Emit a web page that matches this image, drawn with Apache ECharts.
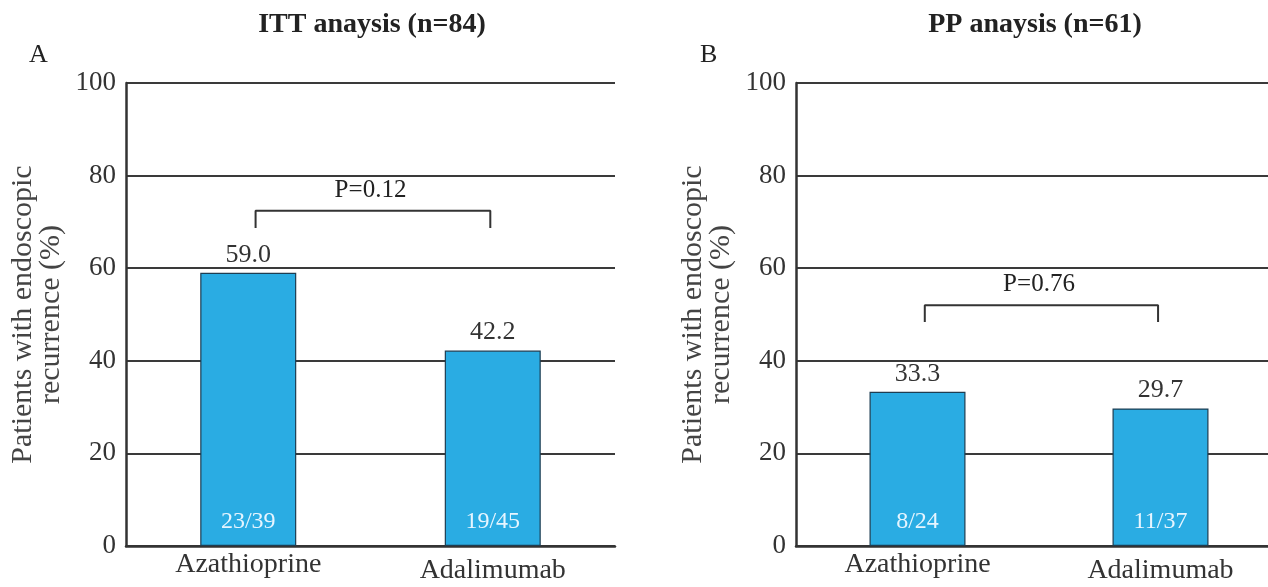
<!DOCTYPE html>
<html><head><meta charset="utf-8">
<script src="https://cdn.jsdelivr.net/npm/echarts@6/dist/echarts.min.js"></script>
<style>html,body{margin:0;padding:0;background:#fff}#c{width:1268px;height:587px}</style>
</head><body><div id="c"></div>
<script>
const categories = ['Azathioprine', 'Adalimumab'];
const ittValues = [59.0, 42.2];
const ittCounts = ['23/39', '19/45'];
const ppValues = [33.3, 29.7];
const ppCounts = ['8/24', '11/37'];
const panelTitles = ['ITT anaysis (n=84)', 'PP anaysis (n=61)'];
const panelLetters = ['A', 'B'];
const pValues = ['P=0.12', 'P=0.76'];
const bracketTop = [72.4, 52.0];
const bracketEnd = [68.7, 48.4];
const yTicks = [0, 20, 40, 60, 80, 100];

const FONT = '"Liberation Serif", "DejaVu Serif", serif';
const chart = echarts.init(document.getElementById('c'));
const grids = [
  {left: 126, top: 83, width: 489, height: 463, outerBoundsMode: 'none', containLabel: false},
  {left: 796, top: 83, width: 486, height: 463, outerBoundsMode: 'none', containLabel: false}
];
const xAxes = [], yAxes = [], series = [];
const panels = [[ittValues, ittCounts], [ppValues, ppCounts]];
panels.forEach((p, i) => {
  xAxes.push({
    type: 'category', gridIndex: i, data: categories,
    axisLine: {show: true, lineStyle: {color: '#333', width: 2.5}},
    axisTick: {show: false},
    axisLabel: {interval: 0, hideOverlap: false, fontFamily: FONT, fontSize: 28, color: '#333', margin: 5,
      formatter: (v, idx) => idx === 1 ? '{b|' + v + '}' : '{a|' + v + '}',
      rich: {a: {fontFamily: FONT, fontSize: 28, color: '#333', padding: [0,0,0,0]},
             b: {fontFamily: FONT, fontSize: 28, color: '#333', padding: [6,0,0,0]}}}
  });
  xAxes.push({
    type: 'value', gridIndex: i, min: -0.5, max: 1.5, show: false
  });
  yAxes.push({
    type: 'value', gridIndex: i, min: 0, max: 100, interval: 20,
    name: 'Patients with endoscopic\nrecurrence (%)',
    nameLocation: 'middle', nameGap: 61, nameRotate: 90,
    nameTextStyle: {fontFamily: FONT, fontSize: 30, color: '#444', lineHeight: 28},
    axisLine: {show: true, onZero: false, lineStyle: {color: '#333', width: 2.5}},
    axisTick: {show: false},
    axisLabel: {fontFamily: FONT, fontSize: 27, color: '#333', margin: 10,
      customValues: yTicks},
    splitLine: {show: true, lineStyle: {color: '#3a3a3a', width: 2}}
  });
  series.push({
    type: 'bar', xAxisIndex: i * 2, yAxisIndex: i, data: p[0], barWidth: 96,
    itemStyle: {color: '#2aace3', borderColor: '#1d3d52', borderWidth: 1.2},
    label: {show: true, position: 'insideBottom', distance: 12,
      formatter: (d) => p[1][d.dataIndex],
      fontFamily: FONT, fontSize: 24, color: '#e6f5ff'},
    z: 3
  });
  series.push({
    type: 'bar', xAxisIndex: i * 2, yAxisIndex: i, data: p[0], barWidth: 96, barGap: '-100%',
    itemStyle: {color: 'rgba(0,0,0,0)'},
    label: {show: true, position: 'top', distance: 5,
      formatter: (d) => d.value.toFixed(1),
      fontFamily: FONT, fontSize: 26, color: '#333'},
    silent: true, z: 4
  });
  series.push({
    type: 'line', xAxisIndex: i * 2 + 1, yAxisIndex: i,
    data: [[0.03, bracketEnd[i]], [0.03, bracketTop[i]], [0.99, bracketTop[i]], [0.99, bracketEnd[i]]],
    symbol: 'none', lineStyle: {color: '#333', width: 2}, silent: true, z: 5
  });
  series.push({
    type: 'scatter', xAxisIndex: i * 2 + 1, yAxisIndex: i,
    data: [[0.5, bracketTop[i]]], symbolSize: 0,
    itemStyle: {opacity: 1},
    label: {show: true, position: 'top', distance: 8, formatter: pValues[i],
      fontFamily: FONT, fontSize: 25, color: '#222', opacity: 1},
    silent: true, z: 5
  });
});
chart.setOption({
  animation: false,
  backgroundColor: '#fff',
  title: [
    {text: panelTitles[0], left: 367, top: 6, textAlign: 'center',
     textStyle: {fontFamily: FONT, fontSize: 28, fontWeight: 'bold', color: '#222'}},
    {text: panelTitles[1], left: 1030, top: 6, textAlign: 'center',
     textStyle: {fontFamily: FONT, fontSize: 28, fontWeight: 'bold', color: '#222'}},
    {text: panelLetters[0], left: 24, top: 37,
     textStyle: {fontFamily: FONT, fontSize: 26, fontWeight: 'normal', color: '#222'}},
    {text: panelLetters[1], left: 695, top: 37,
     textStyle: {fontFamily: FONT, fontSize: 26, fontWeight: 'normal', color: '#222'}}
  ],
  grid: grids,
  xAxis: xAxes,
  yAxis: yAxes,
  series: series
});
</script></body></html>
